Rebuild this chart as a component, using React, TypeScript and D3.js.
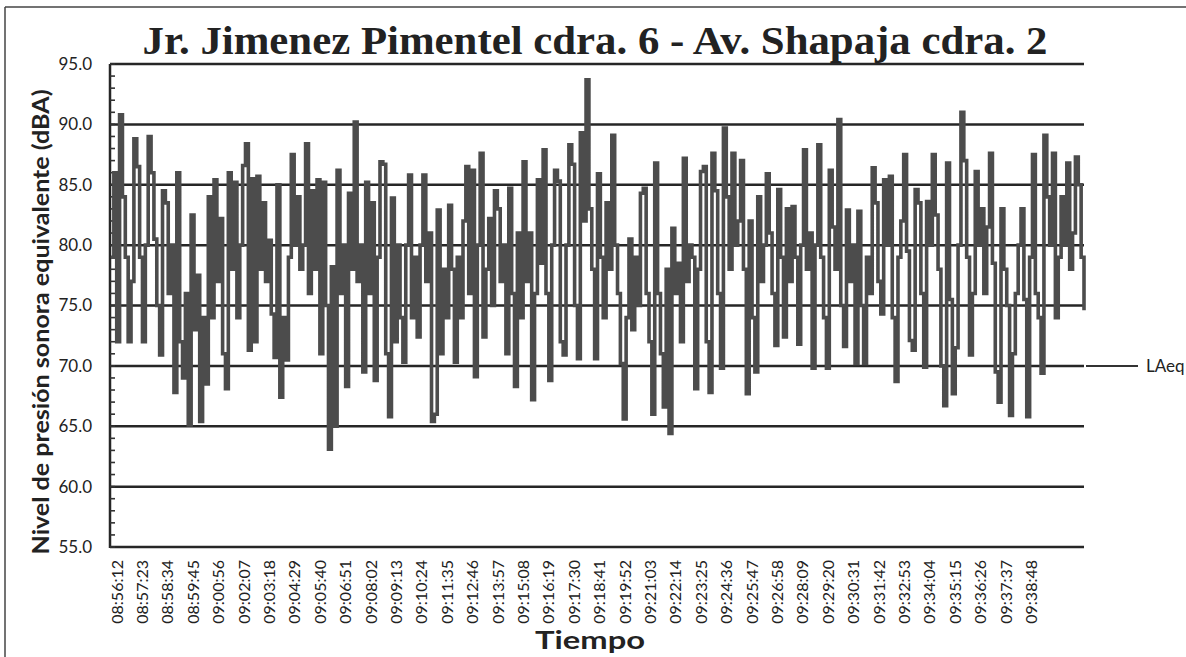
import * as d3 from 'd3';

// LAeq readings, one every 8 s starting 08:56:12
const stepSeconds = 8;
const startTime = '08:56:12';

const laeqSeg1 = [
  79, 86, 72, 90.8, 84, 79, 72, 77, 88.8, 86.5,
  79, 72, 80, 89, 86, 80.5, 75, 70.9, 84.5, 83.5,
  76, 80, 67.8, 86, 72, 69, 76, 65.1, 82.5, 73,
  77.5, 65.4, 74, 68.5, 84, 74, 85.4, 77, 82.2, 71,
  68.1, 86, 78, 85.2, 74, 80, 86.6, 88.4, 71.3, 85.5,
  72, 85.7, 78, 83.5, 77, 80.4, 74.3, 70.7, 85, 67.4,
  74, 70.5, 79, 87.5, 80, 84, 78,
];
const laeqSeg2 = [
  80, 88.4, 76, 84.5, 78, 85.4, 71, 85.2, 75, 63.1,
  78.2, 65, 86.2, 76, 80, 68.3, 84.3, 78, 90.2, 77,
  80, 69.5, 85.2, 76, 83.5, 68.8, 79, 86.9, 86.7, 71,
  65.8, 83.9, 72, 80, 74, 70.3, 80, 85.8, 74, 79,
  72.4, 80, 85.8, 77, 81, 65.4, 66, 82.9, 71, 78,
  74, 83.3, 78, 70.3, 79, 74, 82, 86.5, 76, 86.2,
  69.1, 80, 87.6, 72.4, 78, 82.2, 75, 84.5,
];
const laeqSeg3 = [
  83, 77, 80, 71, 84.7, 76, 68.3, 81, 74, 86.9,
  77, 81, 67.2, 76, 85.4, 78.5, 87.9, 76, 68.8, 80,
  86.2, 85.3, 72, 70.9, 80, 88.3, 86.7, 75, 70.6, 89.3,
  82, 93.7, 83, 78, 70.6, 85.9, 79, 74, 83.5, 78,
  89.1, 80, 76, 70.2, 65.6, 74, 80.5, 73, 79, 75,
  84.3, 84.7, 76, 72, 66, 86.8, 76, 71, 66.6, 78,
  64.4, 81.4, 76, 78.5, 72, 87.2, 77, 80,
];
const laeqSeg4 = [
  79, 68.1, 78, 86.1, 86.5, 72, 67.8, 87.6, 84.5, 76,
  69.8, 89.7, 84, 78, 87.6, 80, 82, 87, 78, 67.7,
  82, 74, 69.5, 84, 77, 80, 85.9, 81, 76, 71.7,
  84.6, 79, 72.4, 83, 77, 83.2, 79, 71.8, 80, 87.9,
  78, 81, 69.8, 80, 88.3, 79, 74, 69.8, 86.2, 81.5,
  78, 90.4, 75, 71.6, 82.9, 77, 80, 70.2, 82.8, 75,
  70.2, 79, 76, 86.4, 83.5, 77, 74.3, 85.4,
];
const laeqSeg5 = [
  80, 85.7, 74, 68.7, 79, 82, 87.5, 79.5, 72.1, 71.3,
  84.6, 83.5, 76, 69.9, 83.6, 80, 87.5, 82.5, 78, 70,
  66.7, 86.8, 75.5, 67.7, 71.5, 80, 91, 87, 79, 70.9,
  76, 86.1, 80, 83, 76, 81.5, 87.6, 78.5, 69.5, 67,
  83, 78, 75, 65.9, 71, 76, 80, 83, 75.5, 65.8,
  79, 87.5, 76, 74, 69.4, 89.1, 84, 80, 87.6, 74,
  79, 84, 80, 86.8, 78, 81, 87.3, 85, 79, 74.6,
];

const timeLabels = [
  '08:56:12', '08:57:23', '08:58:34', '08:59:45', '09:00:56', '09:02:07', '09:03:18',
  '09:04:29', '09:05:40', '09:06:51', '09:08:02', '09:09:13', '09:10:24', '09:11:35',
  '09:12:46', '09:13:57', '09:15:08', '09:16:19', '09:17:30', '09:18:41', '09:19:52',
  '09:21:03', '09:22:14', '09:23:25', '09:24:36', '09:25:47', '09:26:58', '09:28:09',
  '09:29:20', '09:30:31', '09:31:42', '09:32:53', '09:34:04', '09:35:15', '09:36:26',
  '09:37:37', '09:38:48',
];

const yTicks = [55, 60, 65, 70, 75, 80, 85, 90, 95];

const laeq = [...laeqSeg1, ...laeqSeg2, ...laeqSeg3, ...laeqSeg4, ...laeqSeg5];

const toSec = (t: string) => {
  const [h, m, s] = t.split(':').map(Number);
  return h * 3600 + m * 60 + s;
};

const sans = 'Lato, "Liberation Sans", sans-serif';
const ink = '#222';

export default function App() {
  const width = 1186;
  const height = 657;
  const plot = { left: 110, right: 1084, top: 64, bottom: 547 };

  const x = d3
    .scaleLinear()
    .domain([0, (laeq.length - 1) * stepSeconds])
    .range([plot.left + 1, plot.right]);
  const y = d3.scaleLinear().domain([55, 95]).range([plot.bottom, plot.top]);

  // each reading is held for its 8 s slot, so level changes are vertical jumps
  const line = d3
    .line<number>()
    .x((_, i) => x(i * stepSeconds))
    .y(d => y(d))
    .curve(d3.curveStepAfter);

  const t0 = toSec(startTime);
  const minorTicks = d3.range(55, 95.01, 1);

  return (
    <svg
      width={width}
      height={height}
      style={{ position: 'absolute', left: 0, top: 0, background: '#fff' }}
    >
      {/* scan frame */}
      <line x1={5} x2={width} y1={7} y2={7} stroke="#444" strokeWidth={1.5} />
      <line x1={5} x2={5} y1={7} y2={height} stroke="#444" strokeWidth={1.5} />

      <text
        x={595}
        y={54}
        textAnchor="middle"
        fontFamily='"Liberation Serif", serif'
        fontWeight="bold"
        fontSize={41}
        fill={ink}
        textLength={905}
        lengthAdjust="spacingAndGlyphs"
      >
        Jr. Jimenez Pimentel cdra. 6 - Av. Shapaja cdra. 2
      </text>

      {/* gridlines */}
      {yTicks.map(v => (
        <line
          key={v}
          x1={plot.left}
          x2={plot.right}
          y1={y(v)}
          y2={y(v)}
          stroke="#262626"
          strokeWidth={2.5}
        />
      ))}

      {/* y axis */}
      <line x1={plot.left} x2={plot.left} y1={plot.top} y2={plot.bottom + 1} stroke="#262626" strokeWidth={2.5} />
      {minorTicks.map(v => (
        <line
          key={v}
          x1={plot.left}
          x2={plot.left + 5}
          y1={y(v)}
          y2={y(v)}
          stroke="#333"
          strokeWidth={1.6}
        />
      ))}
      {yTicks.map(v => (
        <text
          key={v}
          x={92}
          y={y(v)}
          dy="0.35em"
          textAnchor="end"
          fontFamily={sans}
          fontSize={17}
          fill={ink}
        >
          {v.toFixed(1)}
        </text>
      ))}

      {/* series */}
      <path
        d={line(laeq) ?? ''}
        fill="none"
        stroke="#4c4c4c"
        strokeWidth={3.6}
        strokeLinejoin="miter"
      />

      {/* x labels */}
      {timeLabels.map(t => {
        const px = x(toSec(t) - t0) + 6;
        return (
          <text
            key={t}
            transform={`translate(${px},560) rotate(-90)`}
            dy="0.35em"
            textAnchor="end"
            fontFamily={sans}
            fontSize={16}
            fill={ink}
          >
            {t}
          </text>
        );
      })}

      <text
        x={590}
        y={649}
        textAnchor="middle"
        fontFamily={sans}
        fontWeight="bold"
        fontSize={25}
        fill={ink}
        textLength={110}
        lengthAdjust="spacingAndGlyphs"
      >
        Tiempo
      </text>

      <text
        transform="translate(49,322) rotate(-90)"
        textAnchor="middle"
        fontFamily={sans}
        fontWeight="bold"
        fontSize={22}
        fill={ink}
        textLength={465}
        lengthAdjust="spacingAndGlyphs"
      >
        Nivel de presión sonora equivalente (dBA)
      </text>

      {/* legend */}
      <line x1={1086} x2={1138} y1={y(70)} y2={y(70)} stroke="#333" strokeWidth={2} />
      <text x={1146} y={y(70)} dy="0.35em" fontFamily={sans} fontSize={17} fill={ink}>
        LAeq
      </text>
    </svg>
  );
}
